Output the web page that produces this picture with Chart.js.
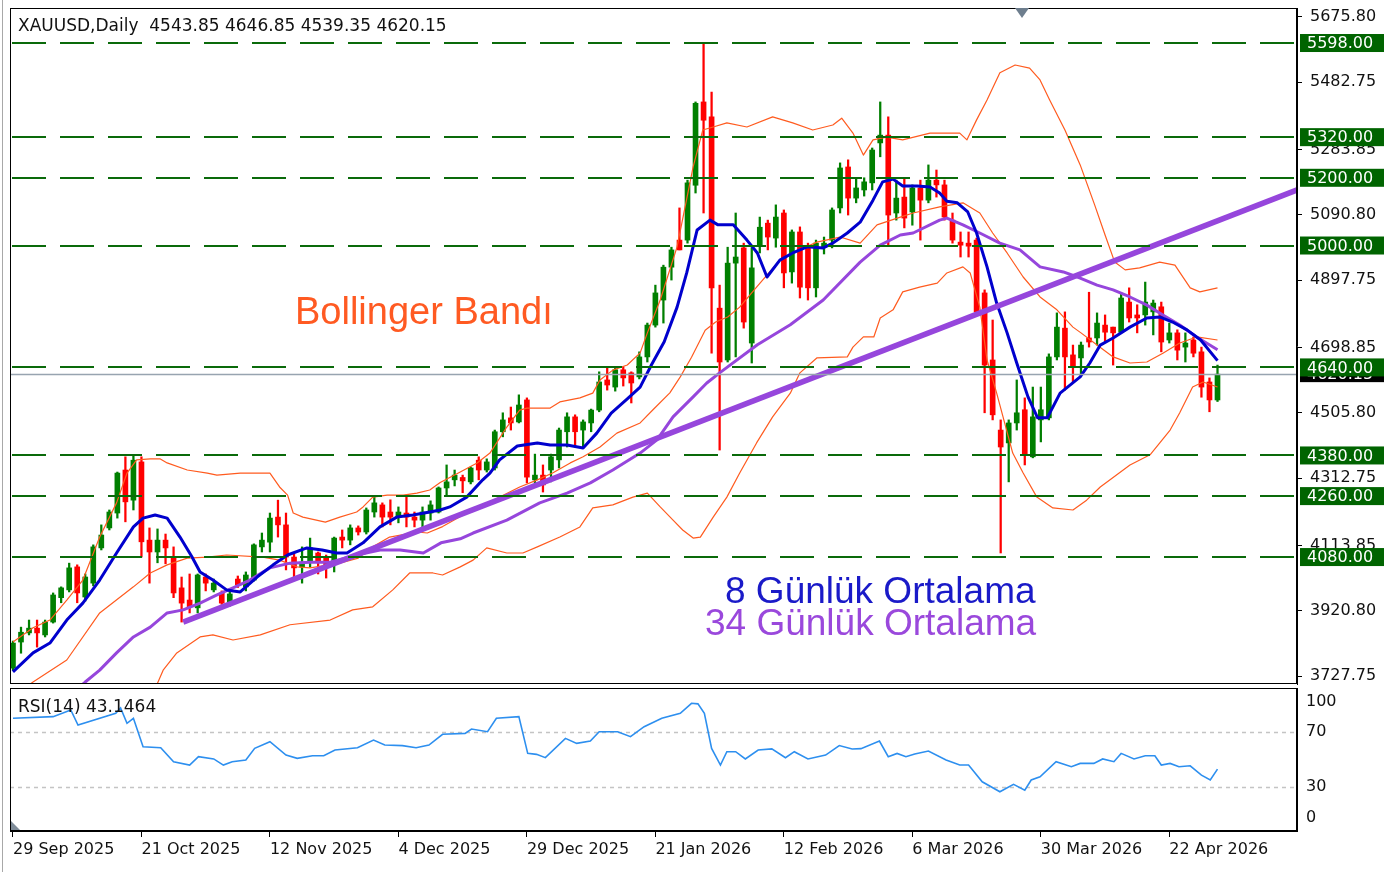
<!DOCTYPE html>
<html lang="tr">
<head>
<meta charset="utf-8">
<title>XAUUSD, Daily</title>
<script src="https://cdn.jsdelivr.net/npm/chart.js@4.4.1/dist/chart.umd.min.js"></script>
<style>
  html, body { margin: 0; padding: 0; background: #fff; }
  body { width: 1391px; height: 872px; position: relative; overflow: hidden; font-family: "DejaVu Sans", sans-serif; }
  canvas { position: absolute; left: 0; }
  #priceChart { top: 0; }
  #rsiChart { top: 686px; }
  .txt { position: absolute; white-space: pre; }
  .head { font-size: 17px; line-height: 20px; color: #111; }
  .note { font-family: "Liberation Sans", Arial, sans-serif; font-size: 37px; line-height: 37px; }
  .edge { position: absolute; left: 2px; top: 0; width: 1px; height: 872px; background: #a8a8a8; }
  .shift { position: absolute; left: 1015px; top: 8px; width: 0; height: 0;
           border-left: 7px solid transparent; border-right: 7px solid transparent; border-top: 10px solid #6e7e8e; }
  .corner { position: absolute; left: 11px; top: 821px; width: 0; height: 0;
            border-bottom: 9px solid #7f8c99; border-right: 9px solid transparent; }
</style>
</head>
<body>
<canvas id="priceChart" width="1391" height="688"></canvas>
<canvas id="rsiChart" width="1391" height="186"></canvas>
<div class="edge"></div>
<div class="shift"></div>
<div class="corner"></div>
<div class="txt head" style="left:18px;top:15px">XAUUSD,Daily  4543.85 4646.85 4539.35 4620.15</div>
<div class="txt head" style="left:18px;top:696px">RSI(14) 43.1464</div>
<div class="txt note" style="left:295px;top:293px;font-size:38px;color:#ff5a22">Bollinger Bandı</div>
<div class="txt note" style="left:725px;top:572px;color:#1a1ac8">8 Günlük Ortalama</div>
<div class="txt note" style="left:705px;top:604px;color:#9a48dc">34 Günlük Ortalama</div>
<script>
// daily bars, index 0 = 29 Sep 2025
const opens = [3752,3829,3856,3870,3850,3888,3960,3983,4051,3962, 4003,4107,4166,4210,4337,4248,4361,4130,4095,4130,
  4077,3989,3953,3930,4021,3983,3974,3947,4015,3992, 4012,4110,4124,4198,4175,4080,4050,4065,4092,4080,
  4065,4139,4130,4166,4154,4213,4234,4213,4198,4210, 4198,4189,4210,4213,4284,4308,4315,4302,4366,4337,
  4343,4450,4491,4479,4544,4308,4322,4337,4367,4450, 4494,4455,4476,4514,4603,4582,4633,4624,4612,4671,
  4765,4839,4936,5016,5016,5178,5424,5380,4815,4662, 4948,4993,4712,5001,5066,5022,5096,4922,5040,4995,
  4875,4995,5016,5111,5232,5140,5164,5185,5303,5326, 5096,5143,5099,5170,5134,5193,5179,5075,5010,5007,
  5016,4860,4662,4455,4417,4476,4515,4376,4485,4491, 4671,4756,4677,4668,4727,4727,4765,4759,4744,4833,
  4795,4795,4804,4819,4721,4742,4700,4721,4686,4597, 4543.85];
const highs = [3832,3873,3894,3894,3894,3974,3992,4062,4057,4030, 4116,4175,4219,4331,4376,4381,4376,4166,4163,4148,
  4110,4021,4030,4030,4030,4015,3980,3983,4024,4036, 4119,4151,4210,4248,4210,4092,4110,4136,4095,4086,
  4139,4160,4175,4172,4225,4258,4240,4249,4228,4263, 4213,4228,4246,4287,4352,4337,4322,4346,4376,4370,
  4455,4506,4523,4559,4550,4384,4352,4384,4461,4506, 4500,4485,4517,4627,4638,4642,4642,4627,4686,4771,
  4883,4942,4995,5111,5193,5424,5598,5453,4883,4995, 5096,5007,4993,5084,5075,5120,5105,5046,5055,5007,
  5016,5025,5111,5244,5253,5200,5200,5288,5424,5380, 5193,5200,5179,5193,5238,5223,5193,5096,5040,5040,
  5022,4869,4780,4485,4485,4603,4550,4582,4582,4680, 4801,4804,4706,4715,4862,4801,4795,4759,4860,4875,
  4825,4892,4839,4833,4771,4751,4742,4730,4700,4609, 4646.85];
const lows = [3745,3796,3850,3814,3844,3885,3945,3977,3945,3950, 3995,4101,4160,4195,4184,4219,4080,4003,4063,4060,
  3960,3888,3915,3915,3980,3977,3940,3935,3990,3980, 4009,4095,4095,4139,4042,4021,4003,4050,4030,4018,
  4036,4107,4116,4145,4148,4198,4169,4175,4181,4169, 4169,4169,4189,4210,4260,4290,4270,4296,4308,4331,
  4337,4435,4455,4476,4299,4299,4272,4302,4343,4405, 4405,4405,4450,4509,4573,4570,4585,4535,4606,4656,
  4759,4771,4898,4987,5007,5155,5096,4682,4396,4656, 4671,4756,4653,4978,4987,4995,4875,4889,4845,4839,
  4848,4975,4993,5096,5090,5126,5146,5164,5262,5001, 5075,5052,5060,5016,5126,5143,5075,5007,4966,4966,
  4801,4506,4485,4092,4302,4455,4352,4373,4420,4485, 4662,4573,4597,4618,4700,4706,4715,4647,4742,4774,
  4742,4765,4736,4686,4712,4662,4656,4671,4552,4509, 4539.35];
const closes = [3826,3858,3870,3856,3888,3968,3989,4048,3974,4021, 4110,4145,4213,4328,4243,4366,4125,4095,4130,4107,
  3974,3944,3933,4027,4003,4003,3944,3971,3998,4027, 4116,4130,4195,4175,4080,4048,4065,4107,4065,4050,
  4136,4130,4166,4154,4219,4240,4198,4198,4213,4198, 4189,4213,4234,4284,4302,4322,4305,4343,4337,4361,
  4450,4485,4476,4529,4316,4322,4293,4376,4455,4494, 4450,4479,4514,4597,4588,4633,4609,4594,4671,4765,
  4860,4936,4987,4987,5185,5420,5370,4875,4656,4948, 4966,4774,4934,5054,5025,5084,4919,5040,4877,4875,
  5007,5007,5105,5229,5140,5170,5188,5282,5326,5090, 5140,5081,5170,5134,5193,5179,5084,5016,5001,4998,
  4804,4647,4500,4405,4476,4506,4380,4494,4515,4671, 4759,4671,4642,4706,4715,4771,4744,4742,4845,4786,
  4786,4833,4830,4715,4742,4691,4712,4682,4582,4544, 4620.15];

// indicator lines: [bar index, value]
const ma8 = [[0,3741],[2.5,3797],[4.6,3826],[6.7,3894],[8.7,3944],[10.8,4012],[12.9,4092],[15,4169],[16.2,4195],[17.7,4204],
  [19.2,4195],[20.8,4139],[22.3,4080],[23.3,4036],[24.9,4012],[26.6,3983],[28.3,3977],[30.4,4021],[32.4,4057],[34.2,4086],
  [36.6,4107],[38.5,4101],[40.3,4092],[41.6,4092],[43.6,4122],[45.7,4169],[47.8,4198],[49.8,4204],[51.9,4213],[53.2,4219],
  [54.4,4228],[56.5,4257],[58.5,4308],[59.4,4328],[60.6,4367],[62.8,4408],[65.3,4417],[66.9,4411],[69,4411],[71,4402],
  [72.7,4446],[74.5,4505],[76.5,4547],[78.1,4582],[79.5,4647],[81.1,4716],[82.7,4818],[83.9,4919],[85.2,5046],[86.8,5075],
  [87.8,5061],[89.7,5061],[91.4,5016],[92.7,4978],[93.9,4907],[95.5,4957],[97.1,4978],[98.9,4996],[100.9,4993],[102.1,5007],
  [103.9,5037],[105.5,5069],[107.1,5134],[108.3,5188],[109.6,5196],[110.8,5176],[112.6,5176],[114.2,5173],[115.4,5155],[116.3,5131],
  [117.6,5126],[118.9,5099],[120,5037],[121.3,4937],[122.5,4830],[123.8,4742],[125,4653],[126.4,4553],[127.6,4491],[128.8,4491],
  [130.4,4564],[132.9,4612],[134.1,4653],[135.4,4706],[137,4727],[139.1,4759],[141.2,4786],[142.8,4789],[144.4,4774],[146.2,4751],
  [147.9,4721],[150,4660]];
const ma34 = [[8,3690],[9,3711],[10.8,3746],[12.9,3797],[15,3844],[17.1,3873],[19.2,3915],[21.2,3924],[23.3,3944],[25.4,3968],
  [27.4,3989],[29.5,4012],[32,4048],[34.5,4062],[37,4065],[39.5,4065],[42.8,4086],[45.7,4101],[48.2,4101],[51.1,4092],
  [53.3,4122],[55.7,4134],[57.3,4151],[61.5,4189],[65.6,4240],[69,4269],[71.9,4299],[74.7,4337],[78.1,4387],[80.2,4426],
  [82.2,4494],[84.7,4553],[86.4,4594],[88,4624],[92.7,4707],[96.8,4766],[100.9,4839],[105.5,4951],[108,5001],[110.5,5031],
  [112.1,5037],[115.4,5075],[116.3,5081],[118.3,5061],[120.4,5037],[122.9,5007],[125.4,4987],[127.9,4937],[130.8,4922],[132.9,4904],
  [135,4883],[137,4869],[139.1,4848],[141.2,4824],[143.2,4795],[145.3,4765],[147.4,4730],[150,4692]];
const bbUpper = [[0,3829],[2.5,3871],[4.6,3894],[6.7,3953],[8.7,4012],[10.8,4139],[12.9,4240],[14.2,4328],[15.4,4367],[17.1,4370],
  [18.3,4370],[19.2,4358],[21.7,4337],[24.2,4328],[25.4,4322],[28.3,4328],[32,4328],[33.2,4287],[34.2,4263],[34.9,4210],
  [36.1,4198],[38.9,4183],[40.7,4198],[42.8,4213],[43.6,4228],[44.8,4257],[46.6,4263],[48.6,4263],[50.3,4269],[51.9,4278],
  [53.2,4300],[55.7,4331],[57.8,4358],[59.4,4387],[61.5,4464],[63.1,4514],[64,4520],[66.9,4520],[68.1,4538],[70.6,4550],
  [72.2,4564],[73.1,4603],[74.7,4632],[76.5,4647],[78.1,4683],[79,4742],[80.6,4839],[82.7,4996],[84.7,5232],[85.9,5341],
  [87.2,5350],[88.9,5362],[91.4,5350],[94.6,5380],[97.1,5362],[99.6,5341],[102.1,5356],[103.2,5376],[104.6,5332],[105.9,5267],
  [107.1,5312],[108.8,5320],[110.8,5312],[114.2,5332],[117.9,5332],[118.8,5312],[120,5371],[121.3,5430],[122.9,5510],[124.8,5533],
  [126.6,5524],[127.9,5489],[129.1,5430],[131,5341],[132.9,5238],[134.7,5120],[136,5031],[137.2,4951],[138.5,4928],[140.3,4934],
  [142.8,4951],[144.7,4942],[146.6,4875],[147.8,4863],[150,4875]];
const bbMiddle = [[0,3670],[2.5,3711],[6.7,3776],[10.8,3915],[15,3992],[17.1,4033],[19.2,4057],[21.7,4077],[24.2,4080],[26.6,4086],
  [31.1,4080],[33.2,4071],[35.4,4051],[37,4048],[40.7,4062],[43,4077],[44.8,4110],[46.9,4139],[50.3,4154],[51.6,4151],
  [53.5,4170],[56.5,4210],[60.6,4257],[63.1,4287],[65.3,4308],[67.2,4328],[69.4,4358],[71,4376],[73.1,4405],[75.2,4446],
  [78.1,4476],[79.7,4515],[81.8,4565],[83.1,4612],[84.5,4670],[86.2,4750],[87.5,4774],[89,4789],[90.5,4818],[92.6,4877],
  [95.5,4957],[97.1,4978],[100.1,5010],[103,5025],[105.5,5007],[107.6,5061],[110.5,5084],[112.1,5096],[115.4,5114],[118.3,5126],
  [120.4,5096],[122,5037],[123.8,4978],[125.8,4907],[127.9,4848],[130,4810],[132,4759],[133,4742],[135,4706],[137,4671],
  [139.1,4653],[141.2,4656],[143.2,4682],[145.3,4712],[147.4,4730],[150,4721]];
const bbLower = [[17.5,3680],[18.7,3746],[20.4,3797],[23.3,3844],[24.9,3850],[27.4,3835],[30.8,3850],[34.5,3880],[39.5,3894],[42.3,3924],
  [44.8,3933],[47.3,3983],[49.4,4033],[52.3,4033],[53.5,4027],[55.7,4051],[57.3,4071],[59,4107],[61.5,4092],[63.5,4092],
  [65.3,4110],[68.1,4139],[70.6,4169],[72.2,4225],[74.7,4234],[77.2,4257],[79,4269],[80.6,4228],[82.2,4189],[83.4,4160],
  [84.7,4136],[85.6,4139],[87.2,4198],[88.9,4257],[90.5,4328],[92.6,4417],[94.6,4494],[96.8,4564],[98,4624],[100.1,4668],
  [103.9,4671],[104.6,4700],[105.9,4730],[107.2,4730],[108,4786],[109.6,4810],[110.8,4863],[112.9,4877],[115.1,4889],[116.3,4919],
  [118.3,4937],[119.2,4919],[120.4,4818],[121.3,4662],[122.5,4564],[124.5,4387],[125.8,4328],[127.5,4257],[129.5,4225],[132,4219],
  [133.7,4248],[135.4,4287],[139.1,4352],[141.6,4382],[144.1,4455],[145.3,4506],[146.9,4582],[148.2,4597],[150,4582]];
const trendLine = [[21.2,3888],[160,5165]];
const rsi = [[0,79.6],[5,80.8],[7.2,85.6],[8.1,74.8],[12.8,83.2],[13.4,87],[14.2,76],[15,79.6],[16.2,59.2],[18.4,58.5],
  [20,48.4],[22,46],[23.1,52],[25,50.4],[26.2,46],[27.3,48.4],[29,49.6],[30.1,58],[32,62.8],[34,53.2],
  [35.4,50.8],[37.3,52.7],[38.7,52.7],[40.1,56.8],[42.9,58.5],[44.9,64],[46.3,60.4],[48.5,60],[50.2,58.5],[51.8,60.4],
  [53.5,68.1],[56.3,68.8],[57.1,71.9],[59.1,70],[60.2,79.6],[63,80.8],[64.1,54.4],[65.2,53.7],[66.3,51.3],[68.8,65.2],
  [70.2,61.6],[71.9,63.3],[73,70],[75.3,70],[76.9,66.4],[78.6,73.6],[80.8,79.6],[83.1,83.2],[84.5,90.4],[85.3,90],
  [86.1,83.2],[87,58],[88.1,46],[88.9,55.6],[90,55.6],[91.2,50.4],[92.8,56.8],[94.5,57.6],[96.2,51.3],[97.3,55.6],
  [99,50.4],[101.2,53.2],[102.9,60],[104.5,57.6],[105.6,57.8],[107.9,63.3],[109,52],[110.1,54.4],[111.2,52],[112.3,54],
  [114,56.1],[116.2,49.6],[117.9,46],[119,46],[120.7,34],[122.9,26.8],[124.6,32.1],[126,28],[126.8,35.3],[127.9,37.6],
  [129.9,48.4],[131.8,44.8],[132.9,47.2],[134.6,47.2],[135.7,50.4],[137.1,48.4],[138,54.4],[139.6,50.4],[141,52.7],[142.2,52.7],
  [143,46],[144.1,47.2],[145.2,44.8],[146.6,45.5],[148,38.8],[149.1,35.3],[150,43.1]];

const levels = [5598, 5320, 5200, 5000, 4640, 4380, 4260, 4080];
const priceTicks = [5675.80, 5482.75, 5283.85, 5090.80, 4897.75, 4698.85, 4505.80, 4312.75, 4113.85, 3920.80, 3727.75];
const rsiLevels = [70, 30];
const rsiTicks = [100, 70, 30, 0];
const dateAt = [0, 16, 32, 48, 64, 80, 96, 112, 128, 144];
const dateText = ['29 Sep 2025', '21 Oct 2025', '12 Nov 2025', '4 Dec 2025', '29 Dec 2025',
  '21 Jan 2026', '12 Feb 2026', '6 Mar 2026', '30 Mar 2026', '22 Apr 2026'];

const xMin = -0.37, xMax = 159.9;
const UP = '#007f00', DOWN = '#ff0000';
const BB = '#ff5b1f', BLUE = '#0000cd', PURPLE = '#9646dc';

Chart.defaults.font.family = '"DejaVu Sans", sans-serif';

const pts = arr => arr.map(([x, y]) => ({ x, y }));
const candleColors = closes.map((c, i) => c >= opens[i] ? UP : DOWN);
const lineSet = (data, color, width, order) => ({
  type: 'line', data: pts(data), borderColor: color, borderWidth: width,
  pointRadius: 0, tension: 0, fill: false, order, borderJoinStyle: 'round'
});

const priceOverlay = {
  id: 'priceOverlay',
  afterDatasetsDraw(chart) {
    const { ctx, chartArea: a, scales: { y } } = chart;
    ctx.save();
    ctx.beginPath();
    ctx.rect(a.left, a.top, a.right - a.left, a.bottom - a.top);
    ctx.clip();
    const yc = Math.round(y.getPixelForValue(closes[closes.length - 1])) + 0.5;
    ctx.strokeStyle = '#98a4b0';
    ctx.lineWidth = 1.5;
    ctx.beginPath(); ctx.moveTo(a.left, yc); ctx.lineTo(a.right, yc); ctx.stroke();
    ctx.strokeStyle = '#0a6a0a';
    ctx.lineWidth = 2;
    ctx.setLineDash([34, 14]);
    levels.forEach(v => {
      const py = Math.round(y.getPixelForValue(v));
      ctx.beginPath(); ctx.moveTo(a.left + 2, py); ctx.lineTo(a.right, py); ctx.stroke();
    });
    ctx.restore();
  },
  afterDraw(chart) {
    const { ctx, chartArea: a, scales: { y } } = chart;
    ctx.save();
    ctx.strokeStyle = '#000';
    ctx.lineWidth = 1;
    ctx.strokeRect(a.left + 0.5, a.top + 0.5, a.right - a.left - 1, a.bottom - a.top - 1);
    ctx.font = '16px "DejaVu Sans"';
    ctx.textBaseline = 'middle';
    const last = closes[closes.length - 1];
    let py = y.getPixelForValue(last);
    ctx.fillStyle = '#000';
    ctx.fillRect(a.right + 3, py - 8, 84, 16);
    ctx.fillStyle = '#fff';
    ctx.fillText(last.toFixed(2), a.right + 10, py + 1);
    levels.forEach(v => {
      py = y.getPixelForValue(v);
      ctx.fillStyle = '#006400';
      ctx.fillRect(a.right + 3, py - 9, 84, 18);
      ctx.fillStyle = '#fff';
      ctx.fillText(v.toFixed(2), a.right + 10, py + 1);
    });
    ctx.restore();
  }
};

new Chart(document.getElementById('priceChart'), {
  type: 'bar',
  data: {
    datasets: [
      lineSet(trendLine, PURPLE, 5.5, 1),
      lineSet(ma8, BLUE, 3, 2),
      lineSet(ma34, PURPLE, 3, 3),
      lineSet(bbUpper, BB, 1.2, 4),
      lineSet(bbMiddle, BB, 1.2, 4),
      lineSet(bbLower, BB, 1.2, 4),
      {
        label: 'wick', order: 11, grouped: false, barThickness: 1.6,
        data: highs.map((h, i) => ({ x: i, y: [lows[i], h] })),
        backgroundColor: candleColors, borderWidth: 0
      },
      {
        label: 'body', order: 10, grouped: false, barThickness: 5, minBarLength: 1,
        data: opens.map((o, i) => ({ x: i, y: [o, closes[i]] })),
        backgroundColor: candleColors, borderWidth: 0
      }
    ]
  },
  options: {
    responsive: false, animation: false, devicePixelRatio: 1,
    layout: { padding: { left: 10, top: 8, right: 0, bottom: 4 } },
    plugins: { legend: { display: false }, tooltip: { enabled: false } },
    scales: {
      x: { type: 'linear', min: xMin, max: xMax, offset: false, display: false },
      y: {
        position: 'right', min: 3705.1, max: 5701.4,
        afterBuildTicks: s => { s.ticks = priceTicks.map(v => ({ value: v })); },
        afterFit: s => { s.width = 94; s.paddingTop = 0; s.paddingBottom = 0; },
        ticks: { color: '#111', font: { size: 16 }, padding: 8, autoSkip: false, callback: v => v.toFixed(2) },
        grid: { drawOnChartArea: false, drawTicks: true, tickLength: 5, color: '#000' },
        border: { display: true, color: '#000' }
      }
    }
  },
  plugins: [priceOverlay]
});

const rsiOverlay = {
  id: 'rsiOverlay',
  beforeDatasetsDraw(chart) {
    const { ctx, chartArea: a, scales: { y } } = chart;
    ctx.save();
    ctx.strokeStyle = '#c4c4c4';
    ctx.lineWidth = 1.5;
    ctx.setLineDash([4, 4]);
    rsiLevels.forEach(v => {
      const py = Math.round(y.getPixelForValue(v)) + 0.5;
      ctx.beginPath(); ctx.moveTo(a.left, py); ctx.lineTo(a.right, py); ctx.stroke();
    });
    ctx.restore();
  },
  afterDraw(chart) {
    const { ctx, chartArea: a, scales: { y } } = chart;
    ctx.save();
    ctx.strokeStyle = '#000';
    ctx.lineWidth = 1;
    ctx.strokeRect(a.left + 0.5, a.top + 0.5, a.right - a.left - 1, a.bottom - a.top - 1);
    ctx.fillStyle = '#111';
    ctx.font = '16px "DejaVu Sans"';
    ctx.textBaseline = 'middle';
    rsiTicks.forEach(v => {
      const py = Math.min(Math.max(y.getPixelForValue(v), a.top + 14), a.bottom - 13);
      ctx.fillText(String(v), a.right + 9, py);
    });
    ctx.restore();
  }
};

new Chart(document.getElementById('rsiChart'), {
  type: 'line',
  data: {
    datasets: [{ data: pts(rsi), borderColor: '#2d8fef', borderWidth: 1.6, pointRadius: 0, tension: 0, fill: false }]
  },
  options: {
    responsive: false, animation: false, devicePixelRatio: 1,
    layout: { padding: { left: 10, top: 2, right: 0, bottom: 0 } },
    plugins: { legend: { display: false }, tooltip: { enabled: false } },
    scales: {
      x: {
        type: 'linear', min: xMin, max: xMax,
        afterBuildTicks: s => { s.ticks = dateAt.map(v => ({ value: v })); },
        afterFit: s => { s.height = 41; s.paddingLeft = 0; s.paddingRight = 0; },
        ticks: {
          autoSkip: false, maxRotation: 0, align: 'start', padding: 3, color: '#111',
          font: { size: 16 }, callback: v => dateText[dateAt.indexOf(v)]
        },
        grid: { drawOnChartArea: false, tickLength: 6, color: '#000' },
        border: { color: '#000' }
      },
      y: {
        position: 'right', min: -1.4, max: 101.4,
        afterFit: s => { s.width = 94; s.paddingTop = 0; s.paddingBottom = 0; },
        ticks: { display: false },
        grid: { display: false },
        border: { display: true, color: '#000' }
      }
    }
  },
  plugins: [rsiOverlay]
});
</script>
</body>
</html>
